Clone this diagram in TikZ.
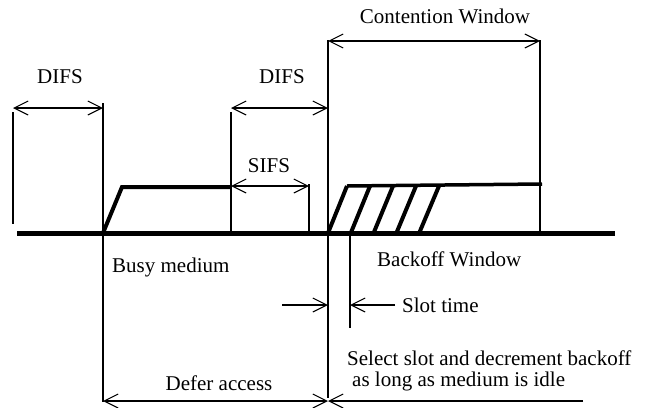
\documentclass[tikz,border=0pt]{standalone}
\usepackage{fontspec}
\setmainfont{Liberation Serif}
\usetikzlibrary{arrows.meta}
\begin{document}
\begin{tikzpicture}[x=1pt,y=-1pt,
  thin line/.style={line width=1.1pt},
  thick line/.style={line width=4pt},
  dim/.style={line width=1.1pt,{Straight Barb[length=14pt,width=14pt]}-{Straight Barb[length=14pt,width=14pt]}},
  tipend/.style={line width=1.1pt,-{Straight Barb[length=14pt,width=14pt]}},
  lbl/.style={font=\fontsize{21}{24}\selectfont, inner sep=0pt}]
\useasboundingbox (0,0) rectangle (650,407);
% coordinates
\coordinate (b0) at (17,233);
\coordinate (b1) at (615,233);
\coordinate (v1t) at (13,112); \coordinate (v1b) at (13,224);
\coordinate (v2t) at (103,103); \coordinate (v2b) at (103,402);
\coordinate (v3t) at (231,112); \coordinate (v3b) at (231,233);
\coordinate (v4t) at (309,184); \coordinate (v4b) at (309,233);
\coordinate (v5t) at (328,40); \coordinate (v5b) at (328,398);
\coordinate (v6t) at (350,233); \coordinate (v6b) at (350,328);
\coordinate (v7t) at (540,40); \coordinate (v7b) at (540,233);
% baseline
\draw[line width=5pt] (b0) -- (b1);
% verticals
\draw[thin line] (v1t) -- (v1b);
\draw[thin line] (v2t) -- (v2b);
\draw[thin line] (v3t) -- (v3b);
\draw[thin line] (v4t) -- (v4b);
\draw[line width=1.6pt] (v5t) -- (v5b);
\draw[thin line] (v6t) -- (v6b);
\draw[thin line] (v7t) -- (v7b);
% busy medium
\draw[thick line, line join=miter] (103,233) -- (122,187) -- (231,187);
% backoff shape
\draw[line width=3.5pt] (347,186) -- (542,184);
\foreach \k in {0,...,4}{
  \draw[thick line] ({328+22.8*\k},233) -- ({347+23*\k},186);
}
% dimension arrows
\draw[dim] (13,108) -- (103,108);
\draw[dim] (231,108) -- (328,108);
\draw[dim] (231,186) -- (309,186);
\draw[dim] (328,41) -- (540,41);
\draw[dim] (103,401) -- (328,401);
\coordinate (selend) at (583,401);
\draw[tipend] (selend) -- (328,401);
\coordinate (sl0) at (282,305); \coordinate (sl1) at (395,305);
\draw[tipend] (sl0) -- (328,305);
\draw[tipend] (sl1) -- (350,305);
% labels
\node[lbl] (difs1) at (60,77) {DIFS};
\node[lbl] (difs2) at (282,77) {DIFS};
\node[lbl] (sifs) at (269,166) {SIFS};
\node[lbl] (cw) at (445,16) {Contention Window};
\node[lbl,anchor=west] (busy) at (112,267) {Busy medium};
\node[lbl,anchor=west] (bw) at (377,259) {Backoff Window};
\node[lbl,anchor=west] (slot) at (402,305) {Slot time};
\node[lbl,anchor=west] (sel1) at (347,358) {Select slot and decrement backoff};
\node[lbl,anchor=west] (sel2) at (352,381) {as long as medium is idle};
\node[lbl] (defer) at (219,383) {Defer access};
\end{tikzpicture}
\end{document}
